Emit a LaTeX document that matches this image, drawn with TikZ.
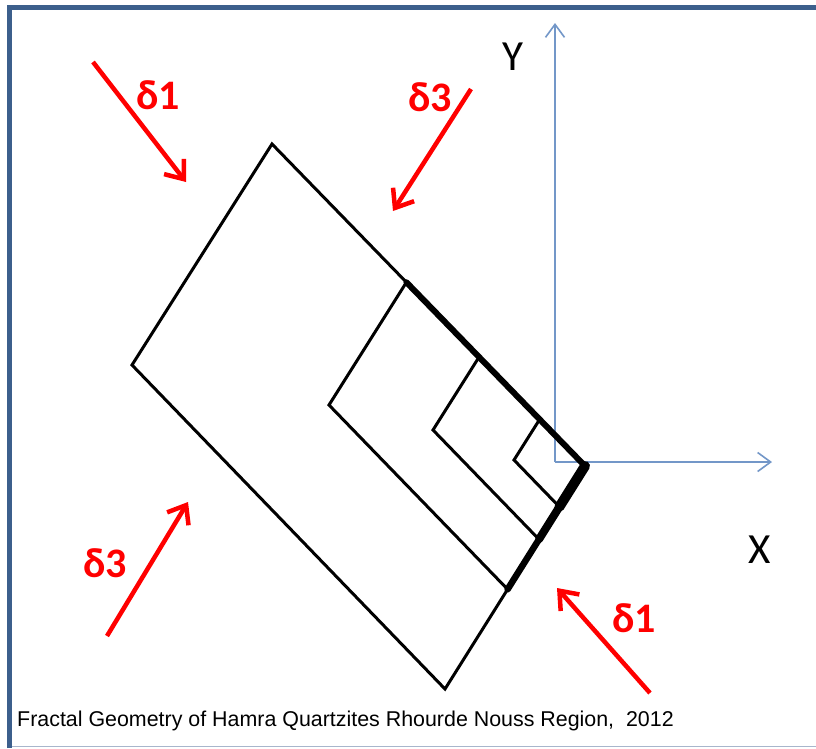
\documentclass[tikz,border=0pt]{standalone}
\usepackage{fontspec}
\setmainfont{Liberation Sans}
\newfontfamily\calib{Carlito}
\usetikzlibrary{arrows.meta,calc}
\definecolor{framecol}{HTML}{3C5F8C}
\definecolor{framelight}{HTML}{A8B6CC}
\definecolor{axiscol}{HTML}{7397C8}
\definecolor{redarrow}{HTML}{FF0000}
\tikzset{
  edge/.style={line width=3pt, line join=miter, line cap=round},
  thickedge/.style={line width=#1, line cap=round},
  force/.style={redarrow, line width=4.5pt, -{Straight Barb[length=16pt,width=25pt,line width=4.5pt]}},
  axis/.style={axiscol, line width=1.6pt, -{Straight Barb[length=13pt,width=19pt,line width=1.6pt]}},
  forcelabel/.style={text=redarrow, font=\calib\bfseries\fontsize{42}{46}\selectfont, inner sep=0pt},
  axislabel/.style={font=\calib\fontsize{43}{46}\selectfont, inner sep=0pt},
  caption/.style={font=\fontsize{21.4}{24}\selectfont, inner sep=0pt, anchor=base west}
}
\begin{document}
\begin{tikzpicture}[x=1pt,y=-1pt]
\useasboundingbox (0,0) rectangle (816,748);
\fill[white] (0,0) rectangle (816,748);
% frame
\draw[framelight, line width=1.5pt] (9.5,746.5) -- (816,746.5);
\draw[framecol, line width=5pt] (9.5,748) -- (9.5,7.5) -- (816,7.5);

% outer parallelogram
\coordinate (A) at (272,144);
\coordinate (B) at (132,365);
\coordinate (C) at (445,689);
\coordinate (D) at (585,466);
% left corners of the nested rectangles
\coordinate (F) at (329,405);
\coordinate (L3) at (433,430);
\coordinate (L4) at (514,460);
% helper points along the two edge directions
\foreach \p in {F,L3,L4}{
  \coordinate (\p u) at ($(\p)+(140,-222)$);
  \coordinate (\p d) at ($(\p)+(313,323)$);
}
\coordinate (E) at (intersection of F--Fu and A--D);
\coordinate (G) at (intersection of F--Fd and D--C);
\coordinate (H) at (intersection of L3--L3u and A--D);
\coordinate (I) at (intersection of L3--L3d and D--C);
\coordinate (J) at (intersection of L4--L4u and A--D);
\coordinate (K) at (intersection of L4--L4d and D--C);

% axes
\coordinate (O) at (555,462);
\coordinate (Ytip) at (555,23);
\coordinate (Xtip) at (772,462);
\draw[axis] (O) -- (Ytip);
\draw[axis] (O) -- (Xtip);

% rectangles
\draw[edge] (A) -- (B) -- (C) -- (D) -- cycle;
\draw[edge] (E) -- (F) -- (G);
\draw[edge] (H) -- (L3) -- (I);
\draw[edge] (J) -- (L4) -- (K);
\draw[thickedge=6pt] (E) -- (D);
\draw[thickedge=6.5pt] (D) -- (G);
\draw[thickedge=8pt] (D) -- (I);
\draw[thickedge=10pt] (D) -- (K);

% axis labels
\node[axislabel] (ylab) at (513,57) {Y};
\node[axislabel] (xlab) at (760,550) {X};

% force arrows
\coordinate (f1s) at (93,62);
\coordinate (f1e) at (186,182);
\coordinate (f2s) at (471,89);
\coordinate (f2e) at (393,211);
\coordinate (f3s) at (107,636);
\coordinate (f3e) at (188,502);
\coordinate (f4s) at (650,693);
\coordinate (f4e) at (557,588);
\draw[force] (f1s) -- (f1e);
\draw[force] (f2s) -- (f2e);
\draw[force] (f3s) -- (f3e);
\draw[force] (f4s) -- (f4e);
\node[forcelabel] (l1) at (158,95) {δ1};
\node[forcelabel] (l2) at (430,97) {δ3};
\node[forcelabel] (l3) at (105,563) {δ3};
\node[forcelabel] (l4) at (634,618) {δ1};

\node[caption] (cap) at (17,726) {Fractal Geometry of Hamra Quartzites Rhourde Nouss Region,\ \ 2012};
\end{tikzpicture}
\end{document}
